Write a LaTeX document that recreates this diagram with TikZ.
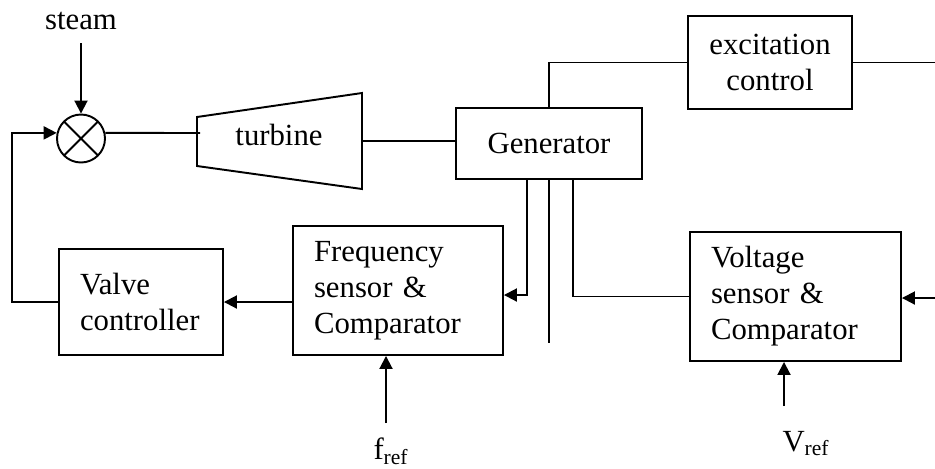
\documentclass[tikz,border=0pt]{standalone}
\usepackage{fontspec}
\setmainfont{Liberation Serif}
\usetikzlibrary{arrows.meta, positioning, calc}

\begin{document}
\begin{tikzpicture}[x=0.02cm, y=-0.02cm, line width=1.1pt,
    every node/.style={font=\fontsize{17.5}{20.5}\selectfont},
    block/.style={rectangle, draw, align=center, inner sep=0pt},
    leftblock/.style={rectangle, draw, align=left, inner xsep=0.42cm, inner ysep=0pt},
    sig/.style={-{Triangle[length=0.26cm, width=0.26cm]}}]
    \useasboundingbox (0,0) rectangle (935,468);

    \node [circle, draw, minimum size=0.96cm, inner sep=0pt, path picture={\draw (path picture bounding box.north west) -- (path picture bounding box.south east) (path picture bounding box.south west) -- (path picture bounding box.north east);}] (sum) at (81,138.5) {};
    \node [inner sep=0pt, inner ysep=0.24cm, anchor=south] (steam) at (81,43) {steam};
    \draw [sig] (steam) -- (sum);

    \draw (197,117) -- (362,93) -- (362,189) -- (197,166) -- cycle;
    \node (turb) at (279,135) {turbine};
    \coordinate (tin) at (200,133);
    \coordinate (tout) at (362,141);
    \draw (sum.13) -- (tin);

    \node [block, minimum width=3.72cm, minimum height=1.42cm] (gen) at (549,143.5) {Generator};
    \draw (tout) -- (tout -| gen.west);

    \node [block, minimum width=3.28cm, minimum height=1.86cm] (exc) at (770,62.5) {excitation\\control};
    \coordinate (excout) at (935,62.5);
    \draw (gen.north) |- (exc.west);
    \draw (exc.east) -- (excout);

    \node [leftblock, text width=3.36cm, minimum height=2.58cm] (freq) at (398,290.5) {Frequency\\sensor \&\\Comparator};
    \node [leftblock, text width=2.44cm, minimum height=2.12cm] (valve) at (141,302) {Valve\\controller};
    \node [leftblock, text width=3.38cm, minimum height=2.58cm] (volt) at (795.5,296.5) {Voltage\\sensor \&\\Comparator};

    \draw [sig] ($(gen.south)+(-22,0)$) |- ($(freq.east)+(0,4.5)$);
    \coordinate (tap) at (549,343);
    \draw (gen.south) -- (tap);
    \draw ($(gen.south)+(24,0)$) |- (volt.west);
    \draw [sig] (freq.west |- valve) -- (valve.east);
    \draw [sig] (valve.west) -- ++(-46,0) |- (sum.167);

    \coordinate (fin) at (386,423);
    \draw [sig] (fin) -- (fin |- freq.south);
    \node [inner sep=0pt, anchor=north] (fref) at (391,437) {f\textsubscript{ref}};
    \coordinate (vin) at (784,406);
    \draw [sig] (vin) -- (vin |- volt.south);
    \node [inner sep=0pt, anchor=north] (vref) at (806,430) {V\textsubscript{ref}};
    \coordinate (vside) at (935,298);
    \draw [sig] (vside) -- (vside -| volt.east);
\end{tikzpicture}
\end{document}
